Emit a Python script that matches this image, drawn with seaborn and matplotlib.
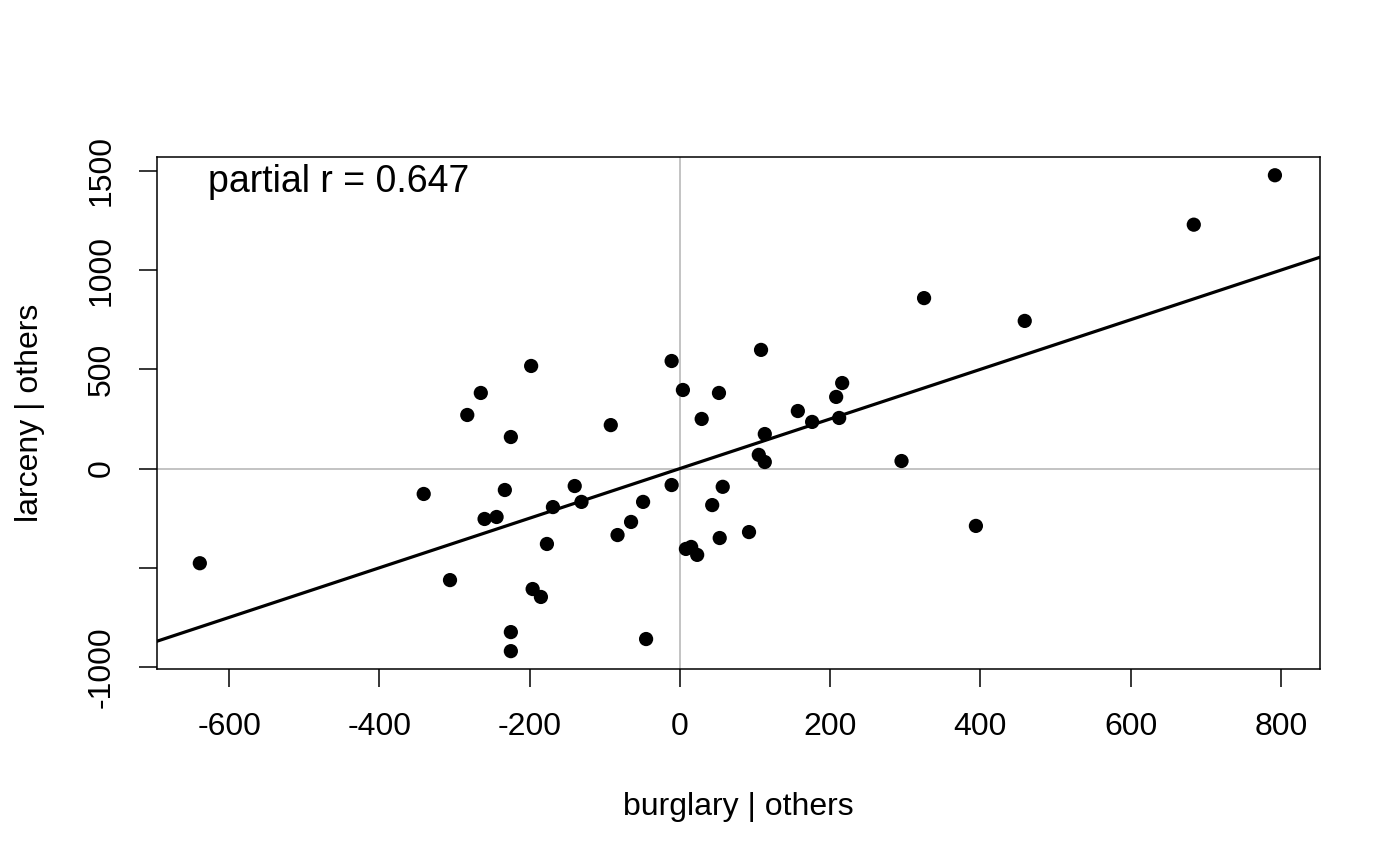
import numpy as np
import pandas as pd
import matplotlib
matplotlib.use("Agg")
import matplotlib.pyplot as plt
import seaborn as sns

# partial residuals: burglary | others (x), larceny | others (y)
burglary_resid = [-639, -341, -306, -283, -265, -260, -244, -233, -225, -225,
                  -225, -198, -196, -185, -177, -169, -140, -131, -92, -83,
                  -65, -49, -45, -11, -11, 4, 8, 15, 23, 29,
                  43, 52, 53, 57, 92, 105, 108, 113, 113, 157,
                  176, 208, 212, 216, 295, 325, 394, 459, 684, 792]
larceny_resid = [-477, -128, -562, 270, 381, -254, -244, -108, 159, -824,
                 -920, 517, -607, -647, -380, -194, -88, -168, 219, -335,
                 -269, -168, -859, 542, -83, 396, -405, -395, -435, 250,
                 -184, 381, -350, -92, -320, 69, 598, 174, 33, 290,
                 235, 361, 255, 431, 38, 859, -289, 744, 1229, 1478]
slope = 1.25
partial_r_text = "partial r = 0.647"

x_ticks = [-600, -400, -200, 0, 200, 400, 600, 800]
y_ticks = [-1000, -500, 0, 500, 1000, 1500]
y_tick_labels = ["-1000", "", "0", "500", "1000", "1500"]

df = pd.DataFrame({"burglary": burglary_resid, "larceny": larceny_resid})

sns.set_theme(style="white")
plt.rcParams["font.family"] = ["Liberation Sans", "DejaVu Sans"]

fig = plt.figure(figsize=(14, 8.66), dpi=100)
ax = fig.add_axes([157/1400, 1-669/866, (1320-157)/1400, (669-157)/866])

ax.axhline(0, color="#BEBEBE", lw=1.3, zorder=1)
ax.axvline(0, color="#BEBEBE", lw=1.3, zorder=1)
ax.axline((0, 0), slope=slope, color="black", lw=2.3, zorder=2)
sns.scatterplot(data=df, x="burglary", y="larceny", ax=ax, color="black",
                s=105, edgecolor="none", linewidth=0, zorder=3)

ax.set_xlim(-696, 852)
ax.set_ylim(-1010, 1570)
ax.set_xticks(x_ticks)
ax.set_xticklabels([str(v) for v in x_ticks])
ax.set_yticks(y_ticks)
ax.set_yticklabels(y_tick_labels, rotation=90, va="center")

for sp in ax.spines.values():
    sp.set_visible(True)
    sp.set_color("black")
    sp.set_linewidth(1.1)

ax.tick_params(axis="both", which="major", direction="out", length=13,
               width=1.1, color="black", labelsize=23, labelcolor="black",
               bottom=True, left=True)
ax.tick_params(axis="x", pad=18)
ax.tick_params(axis="y", pad=16)

ax.set_xlabel("burglary | others", fontsize=23, color="black", labelpad=36)
ax.set_ylabel("larceny | others", fontsize=23, color="black", labelpad=30)

ax.text(-628, 1394, partial_r_text, fontsize=27, ha="left", va="baseline",
        color="black")

fig.savefig("out.png", dpi=100)
